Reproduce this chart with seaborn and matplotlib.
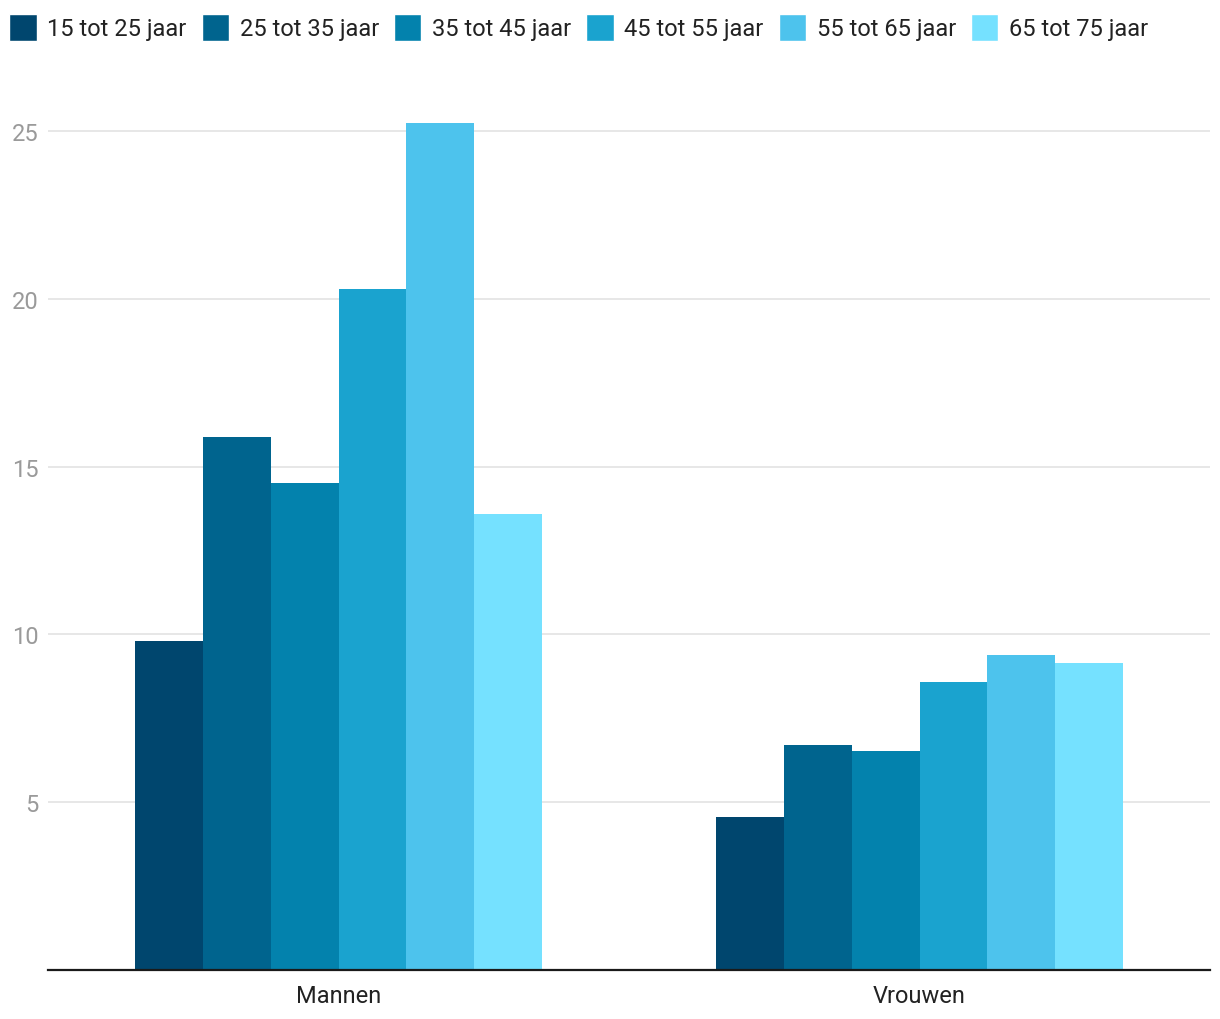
import pandas as pd
import matplotlib.pyplot as plt
import seaborn as sns
from matplotlib.patches import Patch

# categories and series
geslacht = ['Mannen', 'Vrouwen']
leeftijd = ['15 tot 25 jaar', '25 tot 35 jaar', '35 tot 45 jaar',
            '45 tot 55 jaar', '55 tot 65 jaar', '65 tot 75 jaar']
mannen = [9.80, 15.88, 14.51, 20.29, 25.24, 13.59]
vrouwen = [4.56, 6.70, 6.53, 8.58, 9.39, 9.15]
kleuren = ['#00466e', '#00648e', '#0382ad', '#1aa3cf', '#4dc3ed', '#75e1ff']
yticks = [5, 10, 15, 20, 25]

rows = []
for g, vals in zip(geslacht, [mannen, vrouwen]):
    for l, v in zip(leeftijd, vals):
        rows.append({'Geslacht': g, 'Leeftijd': l, 'Waarde': v})
df = pd.DataFrame(rows)

sns.set_style('white')
plt.rcParams['font.family'] = ['Roboto', 'DejaVu Sans']

fig = plt.figure(figsize=(12.2, 10.2), dpi=100)
ax = fig.add_axes([48 / 1220, 1 - 971 / 1020, 1162 / 1220, 906 / 1020])

sns.barplot(data=df, x='Geslacht', y='Waarde', hue='Leeftijd', order=geslacht,
            hue_order=leeftijd, palette=kleuren, width=0.7, saturation=1,
            linewidth=0, ax=ax, legend=False)

ax.set_xlim(-0.5, 1.5)
ax.set_ylim(0, 27)
ax.set_yticks(yticks)
ax.set_yticklabels([str(t) for t in yticks])
ax.grid(axis='y', color='#e3e3e3', linewidth=1.2)
ax.set_axisbelow(True)
ax.set_xlabel('')
ax.set_ylabel('')
for s in ['top', 'right', 'left']:
    ax.spines[s].set_visible(False)
ax.spines['bottom'].set_color('#1a1a1a')
ax.spines['bottom'].set_linewidth(1.6)
ax.tick_params(axis='y', length=0, labelsize=17, labelcolor='#9a9a9a', pad=7)
ax.tick_params(axis='x', length=0, labelsize=17, labelcolor='#222222', pad=10)

handles = [Patch(facecolor=c, label=l) for c, l in zip(kleuren, leeftijd)]
fig.legend(handles=handles, loc='upper left', bbox_to_anchor=(0.0, 0.995),
           ncol=6, frameon=False, fontsize=17, handlelength=1.15,
           handleheight=1.4, handletextpad=0.45, columnspacing=0.65,
           labelcolor='#222222', borderaxespad=0.1, borderpad=0.3)

fig.savefig('out.png', dpi=100)
